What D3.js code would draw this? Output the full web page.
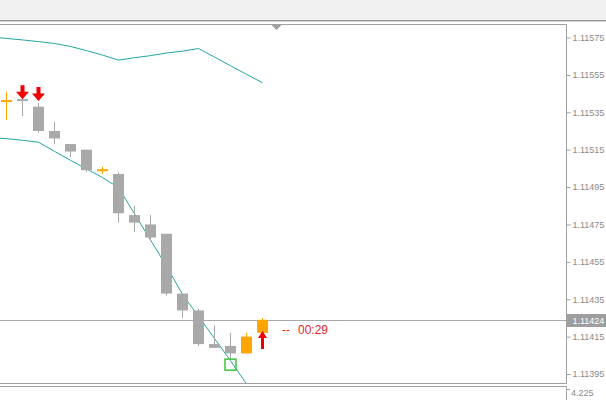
<!DOCTYPE html>
<html lang="en">
<head>
<meta charset="UTF-8"/>
<title>EURUSD M1</title>
<script src="https://cdn.jsdelivr.net/npm/d3@7"></script>
<style>
body { margin: 0; background: #fff; }
text { font-family: "Liberation Sans", Arial, sans-serif; }
.tick-label { fill: #8a8a8a; font-size: 9px; }
</style>
</head>
<body>
<svg id="chart"></svg>
<script>
// bar data (index 0 = leftmost visible bar)
var opens  = [1.11541,1.11542,1.11538,1.11525,1.11518,1.11515,1.11504,1.11502,1.11480,1.11475,1.11470,1.11438,1.11429,1.11411,1.11410,1.11406,1.11417];
var highs  = [1.11546,1.11543,1.11540,1.11530,1.11518,1.11515,1.11506,1.11503,1.11485,1.11480,1.11470,1.11438,1.11430,1.11421,1.11417,1.11417,1.11425];
var lows   = [1.11531,1.11533,1.11524,1.11518,1.11511,1.11503,1.11502,1.11476,1.11471,1.11466,1.11437,1.11425,1.11410,1.11409,1.11403,1.11406,1.11417];
var closes = [1.11541,1.11541,1.11525,1.11521,1.11514,1.11504,1.11504,1.11481,1.11476,1.11468,1.11438,1.11429,1.11411,1.11409,1.11406,1.11415,1.11424];

// band lines, starting one bar before the first visible bar (index -1)
var upperBand = [1.115753,1.115745,1.115737,1.115728,1.115718,1.115702,1.115680,1.115656,1.115629,1.115642,1.115653,1.115667,1.115677,1.115691,1.115645,1.115599,1.115553,1.115508];
var lowerBand = [1.115214,1.115209,1.115200,1.115190,1.115141,1.115093,1.115047,1.115001,1.114947,1.114807,1.114667,1.114527,1.114376,1.114258,1.114140,1.114021,1.113897,1.113778];

// signals
var sellBars = [1, 2], sellPrices = [1.11542, 1.11541];
var buyBars = [16], buyPrices = [1.11418];
var boxBars = [14], boxPrices = [1.11400];

var priceTicks = [1.11575,1.11555,1.11535,1.11515,1.11495,1.11475,1.11455,1.11435,1.11415,1.11395];
var lastPrice = 1.11424;
var countdown = "00:29";
var subValue = "4.225";

var W = 606, H = 400;
var plot = {left: 0, right: 566, top: 24.5, bottom: 383.5};

var svg = d3.select("#chart").attr("width", W).attr("height", H);

var x = d3.scaleLinear().domain([0, 16]).range([6.5, 262.5]);
var y = d3.scaleLinear().domain([1.11395, 1.11575]).range([374, 37.5]);

// top bar
svg.append("rect").attr("x", 0).attr("y", 0).attr("width", W).attr("height", 21).attr("fill", "#f0f0f0");
svg.append("line").attr("x1", 0).attr("x2", W).attr("y1", 20.5).attr("y2", 20.5).attr("stroke", "#9a9a9a");
svg.append("line").attr("x1", 0).attr("x2", W).attr("y1", 21.5).attr("y2", 21.5).attr("stroke", "#cfcfcf");

svg.append("defs").append("clipPath").attr("id", "clip")
	.append("rect").attr("x", 0).attr("y", plot.top).attr("width", plot.right).attr("height", plot.bottom - plot.top);

var g = svg.append("g").attr("clip-path", "url(#clip)");

// current price line
var yl = Math.round(y(lastPrice)) + 0.5;
g.append("line").attr("x1", 0).attr("x2", plot.right).attr("y1", yl).attr("y2", yl)
	.attr("stroke", "#a8a8a8").attr("stroke-width", 1);

// bands
var bandIdx = d3.range(-1, 17);
var line = d3.line().x(function(d, i) { return x(bandIdx[i]); }).y(function(d) { return y(d); });
g.append("path").attr("d", line(upperBand)).attr("fill", "none").attr("stroke", "#20a59e").attr("stroke-width", 1);
g.append("path").attr("d", line(lowerBand)).attr("fill", "none").attr("stroke", "#20a59e").attr("stroke-width", 1);

// candles
var bars = opens.map(function(o, i) {
	return {i: i, o: o, h: highs[i], l: lows[i], c: closes[i]};
});
var candle = g.append("g").selectAll("g").data(bars).enter().append("g");
candle.append("rect")
	.attr("x", function(d) { return x(d.i) - 0.5; })
	.attr("width", 1)
	.attr("y", function(d) { return y(d.h); })
	.attr("height", function(d) { return Math.max(1, y(d.l) - y(d.h)); })
	.attr("fill", function(d) { return d.c >= d.o ? "#ffa500" : "#a9a9a9"; });
candle.append("rect")
	.attr("x", function(d) { return x(d.i) - 5.5; })
	.attr("width", 11)
	.attr("y", function(d) {
		var t = y(Math.max(d.o, d.c)), b = y(Math.min(d.o, d.c));
		return b - t < 2 ? (t + b) / 2 - 1 : t;
	})
	.attr("height", function(d) { return Math.max(2, y(Math.min(d.o, d.c)) - y(Math.max(d.o, d.c))); })
	.attr("fill", function(d) { return d.c >= d.o ? "#ffa500" : "#a9a9a9"; });

// sell arrows (tip at price)
sellBars.forEach(function(b, k) {
	var cx = x(b), ty = y(sellPrices[k]);
	g.append("path")
		.attr("d", "M" + (cx - 2) + "," + (ty - 14) + "L" + (cx + 2) + "," + (ty - 14) +
			"L" + (cx + 2) + "," + (ty - 7.5) + "L" + (cx + 6.5) + "," + (ty - 7.5) +
			"L" + cx + "," + ty + "L" + (cx - 6.5) + "," + (ty - 7.5) + "L" + (cx - 2) + "," + (ty - 7.5) + "Z")
		.attr("fill", "#f00000");
});
// buy arrows
buyBars.forEach(function(b, k) {
	var cx = x(b), ty = y(buyPrices[k]);
	g.append("path")
		.attr("d", "M" + cx + "," + ty + "L" + (cx + 4.5) + "," + (ty + 7) + "L" + (cx + 1.5) + "," + (ty + 7) +
			"L" + (cx + 1.5) + "," + (ty + 18) + "L" + (cx - 1.5) + "," + (ty + 18) +
			"L" + (cx - 1.5) + "," + (ty + 7) + "L" + (cx - 4.5) + "," + (ty + 7) + "Z")
		.attr("fill", "#f00000");
});
// green box
boxBars.forEach(function(b, k) {
	g.append("rect").attr("x", x(b) - 5.5).attr("y", y(boxPrices[k]) - 5.5)
		.attr("width", 11).attr("height", 11)
		.attr("fill", "none").attr("stroke", "#3cc43c").attr("stroke-width", 1.5);
});

// countdown
svg.append("text").attr("x", x(16) + 19.5).attr("y", yl + 13)
	.attr("font-size", 12).attr("fill", "#e52525").text("--");
svg.append("text").attr("x", x(16) + 35.5).attr("y", yl + 13)
	.attr("font-size", 12).attr("fill", "#e52525").text(countdown);

// frame
svg.append("line").attr("x1", 0).attr("x2", plot.right + 0.5).attr("y1", plot.top).attr("y2", plot.top).attr("stroke", "#a0a0a0");
svg.append("line").attr("x1", 0).attr("x2", plot.right + 0.5).attr("y1", plot.bottom).attr("y2", plot.bottom).attr("stroke", "#a0a0a0");
svg.append("line").attr("x1", plot.right + 0.5).attr("x2", plot.right + 0.5).attr("y1", plot.top).attr("y2", plot.bottom).attr("stroke", "#a0a0a0");
svg.append("line").attr("x1", 0).attr("x2", plot.right + 0.5).attr("y1", 386.5).attr("y2", 386.5).attr("stroke", "#a0a0a0");
svg.append("line").attr("x1", plot.right + 0.5).attr("x2", plot.right + 0.5).attr("y1", 386.5).attr("y2", H).attr("stroke", "#a0a0a0");

// top marker triangle
svg.append("path").attr("d", "M271.5,25L281.5,25L276.5,30Z").attr("fill", "#a0a0a0");

// price axis
var axis = d3.axisRight(y).tickValues(priceTicks).tickSize(4).tickPadding(2)
	.tickFormat(d3.format(".5f"));
var ag = svg.append("g").attr("transform", "translate(" + (plot.right + 0.5) + ",0)").call(axis);
ag.select(".domain").remove();
ag.selectAll(".tick line").attr("stroke", "#a0a0a0");
ag.selectAll(".tick text").attr("class", "tick-label").attr("fill", "#8a8a8a").attr("font-size", 9)
	.attr("font-family", "Liberation Sans");

// last price label
svg.append("rect").attr("x", plot.right + 1).attr("y", yl - 6.5).attr("width", W - plot.right - 1).attr("height", 13).attr("fill", "#9e9e9e");
svg.append("text").attr("x", plot.right + 6.5).attr("y", yl).attr("dy", "0.34em")
	.attr("font-size", 9).attr("fill", "#fff").text(d3.format(".5f")(lastPrice));

// subwindow value
svg.append("line").attr("x1", plot.right + 0.5).attr("x2", plot.right + 4).attr("y1", 389.5).attr("y2", 389.5).attr("stroke", "#a0a0a0");
svg.append("text").attr("x", plot.right + 5).attr("y", 393).attr("dy", "0.34em")
	.attr("font-size", 9).attr("fill", "#8a8a8a").text(subValue);
</script>
</body>
</html>
